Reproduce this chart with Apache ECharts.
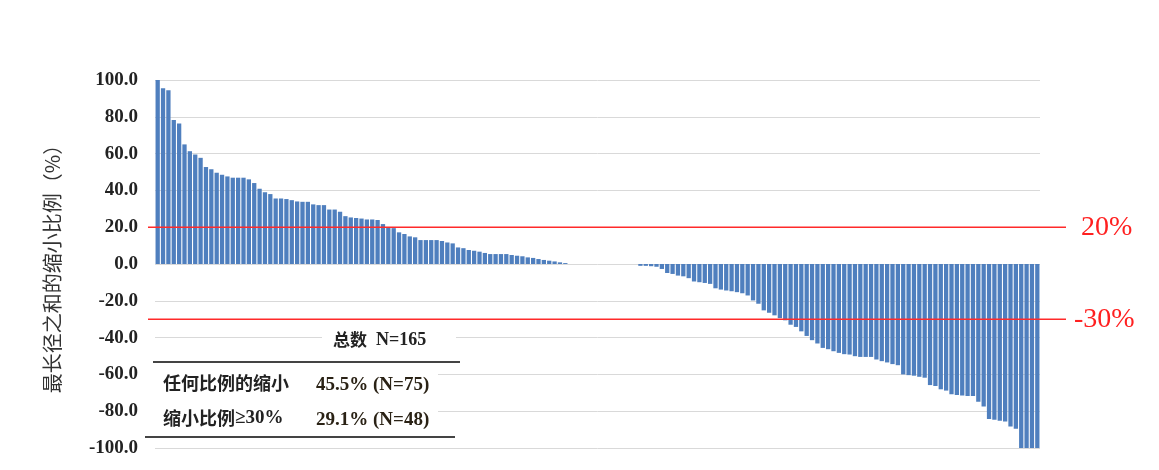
<!DOCTYPE html>
<html>
<head>
<meta charset="utf-8">
<script src="https://cdn.jsdelivr.net/npm/echarts@6/dist/echarts.min.js"></script>
<style>
html, body { margin: 0; padding: 0; background: #fff; }
#main { width: 1159px; height: 470px; }
</style>
</head>
<body>
<div id="main"></div>
<script>
// 增大的病例（从大到小）
var increaseVals = [100, 95.5, 94.4, 78.2, 76.4, 65, 61.3, 59.5, 57.7, 52.7,
	51.5, 49.6, 48.5, 47.6, 46.9, 46.9, 46.9, 46, 44, 40.9,
	39, 38, 35.6, 35.6, 35.3, 34.7, 34, 33.8, 33.8, 32.4,
	32, 32, 29.6, 29.6, 28.4, 26, 25.3, 25, 24.7, 24.2,
	24.2, 23.9, 21.7, 19.9, 19.5, 17.2, 16.3, 15, 14.5, 13,
	13, 13, 13, 12.5, 11.7, 11.2, 9, 8.6, 7.6, 7.2,
	6.7, 6, 5.4, 5.4, 5.4, 5.4, 4.9, 4.5, 4.2, 3.6,
	3.3, 2.7, 2.2, 1.8, 1.4, 0.9, 0.5];
// 无变化
var stableVals = [0, 0, 0, 0, 0, 0, 0, 0, 0, 0, 0, 0, 0];
// 缩小的病例
var decreaseVals = [-1, -1, -1.2, -1.5, -2.7, -4.9, -5.4, -6.3, -6.7, -7.7,
	-9.5, -9.9, -10.3, -10.8, -13.2, -13.9, -14.4, -14.8, -15.3, -15.9,
	-17.1, -19.8, -21.6, -25.2, -26.5, -27.9, -29.4, -30.6, -33, -34.2,
	-36.6, -39.1, -41.4, -43.2, -45.6, -46.3, -47.4, -48.3, -49, -49.2,
	-50.1, -50.5, -50.5, -50.5, -51.9, -52.8, -53.5, -54.4, -55, -60,
	-60.4, -60.7, -61.3, -61.8, -65.8, -66.3, -68.1, -68.8, -70.8, -71.2,
	-71.5, -71.7, -71.7, -74.8, -77.5, -84.3, -84.7, -85.2, -85.6, -88.3,
	-89.5, -100, -100, -100, -100];
var yTicks = [-100, -80, -60, -40, -20, 0, 20, 40, 60, 80, 100];
var thresholdVals = [20, -30];
var thresholdLabels = ['20%', '-30%'];
var tableHeader = '总数  N=165';
var tableRows = [
	['任何比例的缩小', '45.5% (N=75)'],
	['缩小比例≥30%', '29.1% (N=48)']
];

var allVals = increaseVals.concat(stableVals, decreaseVals);
var cats = allVals.map(function (v, i) { return String(i + 1); });

var serif = '"Liberation Serif", "Times New Roman", serif';
var cjk = '"Noto Sans CJK SC", sans-serif';

// 中文用黑体，数字和符号用衬线体
function mixText(s) {
	var runs = s.match(/[\u4e00-\u9fff]+|[^\u4e00-\u9fff]+/g) || [];
	return runs.map(function (r) {
		return /[\u4e00-\u9fff]/.test(r) ? '{c|' + r + '}' : '{s|' + r + '}';
	}).join('');
}
function mixRich(size, color) {
	return {
		c: { fontFamily: cjk, fontWeight: 'bold', fontSize: size, fill: color, color: color },
		s: { fontFamily: serif, fontWeight: 'bold', fontSize: size + 1, fill: color, color: color }
	};
}

var myChart = echarts.init(document.getElementById('main'));

// 阈值线
var thresholdSeries = thresholdVals.map(function (t, i) {
	return {
		type: 'line',
		xAxisIndex: 1,
		yAxisIndex: 1,
		data: [[0, t], [1, t]],
		symbol: 'none',
		silent: true,
		lineStyle: { color: '#ff2a2a', width: 1.5 },
		endLabel: {
			show: true,
			formatter: thresholdLabels[i],
			distance: i === 0 ? 15 : 8,
			color: '#ff2020',
			fontSize: 28,
			fontFamily: serif
		}
	};
});

// 表格
var tableGraphics = [
	{ type: 'rect', shape: { x: 322, y: 329, width: 134, height: 22 }, style: { fill: '#fff' }, z: 100 },
	{ type: 'rect', shape: { x: 148, y: 352, width: 290, height: 92 }, style: { fill: '#fff' }, z: 100 },
	{ type: 'text', x: 333, y: 340, z: 101, style: { text: mixText(tableHeader), rich: mixRich(17, '#222'), verticalAlign: 'middle' } },
	{ type: 'line', shape: { x1: 153, y1: 362, x2: 460, y2: 362 }, style: { stroke: '#444', lineWidth: 2 }, z: 101 },
	{ type: 'line', shape: { x1: 145, y1: 437, x2: 455, y2: 437 }, style: { stroke: '#444', lineWidth: 2 }, z: 101 }
];
tableRows.forEach(function (r, i) {
	var y = 383 + i * 35;
	tableGraphics.push({ type: 'text', x: 163, y: y, z: 101, style: { text: mixText(r[0]), rich: mixRich(18, '#222'), verticalAlign: 'middle' } });
	tableGraphics.push({ type: 'text', x: 316, y: y + 2, z: 101, style: { text: r[1], fill: '#2a2215', font: 'bold 19px ' + serif, verticalAlign: 'middle' } });
});

var option = {
	animation: false,
	backgroundColor: '#fff',
	grid: [
		{ left: 155, right: 119, top: 80, bottom: 22 },
		{ left: 148, right: 93, top: 80, bottom: 22 }
	],
	xAxis: [
		{
			type: 'category',
			gridIndex: 0,
			data: cats,
			axisLine: { show: false },
			axisTick: { show: false },
			axisLabel: { show: false }
		},
		{ type: 'value', gridIndex: 1, min: 0, max: 1, show: false }
	],
	yAxis: [
		{
			type: 'value',
			gridIndex: 0,
			min: yTicks[0],
			max: yTicks[yTicks.length - 1],
			interval: 20,
			name: '最长径之和的缩小比例（%）',
			nameLocation: 'middle',
			nameGap: 93,
			nameTextStyle: { fontSize: 20, color: '#333', fontFamily: cjk },
			axisLine: { show: false },
			axisTick: { show: false },
			axisLabel: {
				margin: 17,
				color: '#222',
				fontSize: 19,
				fontWeight: 'bold',
				fontFamily: serif,
				formatter: function (v) { return v.toFixed(1); }
			},
			splitLine: { lineStyle: { color: '#d9d9d9', width: 1 } }
		},
		{ type: 'value', gridIndex: 1, min: -100, max: 100, show: false }
	],
	series: [
		{
			type: 'bar',
			xAxisIndex: 0,
			yAxisIndex: 0,
			data: allVals,
			barCategoryGap: '20%',
			itemStyle: { color: '#4f7fbe' },
			silent: true
		}
	].concat(thresholdSeries),
	graphic: tableGraphics
};
myChart.setOption(option);
</script>
</body>
</html>
